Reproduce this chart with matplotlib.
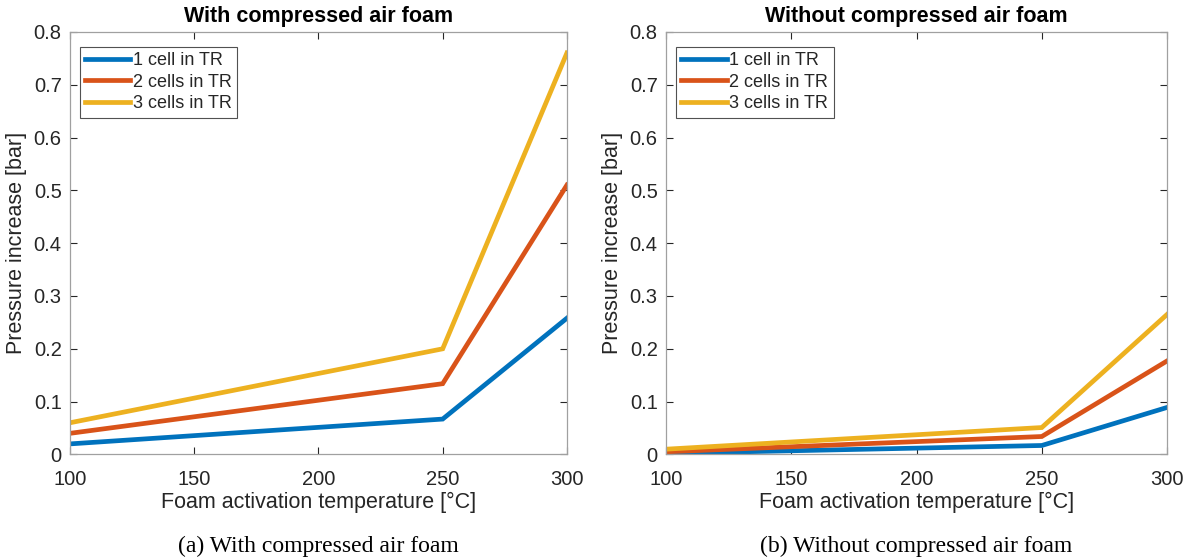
import numpy as np
import matplotlib.pyplot as plt

# foam activation temperature [°C]
temps = [100, 250, 300]

# pressure increase [bar], with compressed air foam
with_1 = [0.020, 0.067, 0.258]
with_2 = [0.040, 0.134, 0.510]
with_3 = [0.060, 0.200, 0.760]

# pressure increase [bar], without compressed air foam
without_1 = [0.002, 0.017, 0.089]
without_2 = [0.005, 0.034, 0.177]
without_3 = [0.010, 0.051, 0.265]

labels = ['1 cell in TR', '2 cells in TR', '3 cells in TR']
colors = ['#0072BD', '#D95319', '#EDB120']

plt.rcParams['font.family'] = ['Liberation Sans', 'DejaVu Sans']
grey = '#262626'

fig = plt.figure(figsize=(11.86, 5.59), dpi=100)
ax1 = fig.add_axes([0.059, 0.187, 0.419, 0.756])
ax2 = fig.add_axes([0.5616, 0.187, 0.4224, 0.756])

panels = [
    (ax1, [with_1, with_2, with_3], 'With compressed air foam', '(a) With compressed air foam'),
    (ax2, [without_1, without_2, without_3], 'Without compressed air foam', '(b) Without compressed air foam'),
]

for ax, series, title, caption in panels:
    for ys, lab, c in zip(series, labels, colors):
        ax.plot(temps, ys, color=c, lw=3.4, label=lab, solid_joinstyle='miter')
    ax.set_xlim(100, 300)
    ax.set_ylim(0, 0.8)
    ax.set_xticks([100, 150, 200, 250, 300])
    ax.set_yticks(np.arange(0, 0.81, 0.1))
    ax.set_yticklabels(['0', '0.1', '0.2', '0.3', '0.4', '0.5', '0.6', '0.7', '0.8'])
    ax.tick_params(direction='in', top=True, right=True, length=5, width=0.8,
                   labelsize=14.5, colors=grey)
    ax.tick_params(axis='x', pad=11)
    ax.tick_params(axis='y', pad=6)
    for sp in ax.spines.values():
        sp.set_color('#a0a0a0')
        sp.set_linewidth(0.9)
    ax.set_title(title, fontsize=15.5, fontweight='bold', pad=7)
    ax.set_xlabel('Foam activation temperature [°C]', fontsize=15.5, color=grey, labelpad=2)
    ax.set_ylabel('Pressure increase [bar]', fontsize=15.5, color=grey, labelpad=5)
    leg = ax.legend(loc='upper left', fontsize=13, frameon=True, fancybox=False,
                    edgecolor=grey, handlelength=2.5, handletextpad=0.15,
                    labelspacing=0.25, borderpad=0.3, borderaxespad=0,
                    bbox_to_anchor=(0.02, 0.965))
    leg.get_frame().set_linewidth(0.8)
    for t in leg.get_texts():
        t.set_color(grey)
    ax.text(0.5, -0.218, caption, transform=ax.transAxes, ha='center', va='center',
            fontsize=17, family=['Liberation Serif', 'DejaVu Serif'])

fig.savefig('out.png', dpi=100, facecolor='white')
